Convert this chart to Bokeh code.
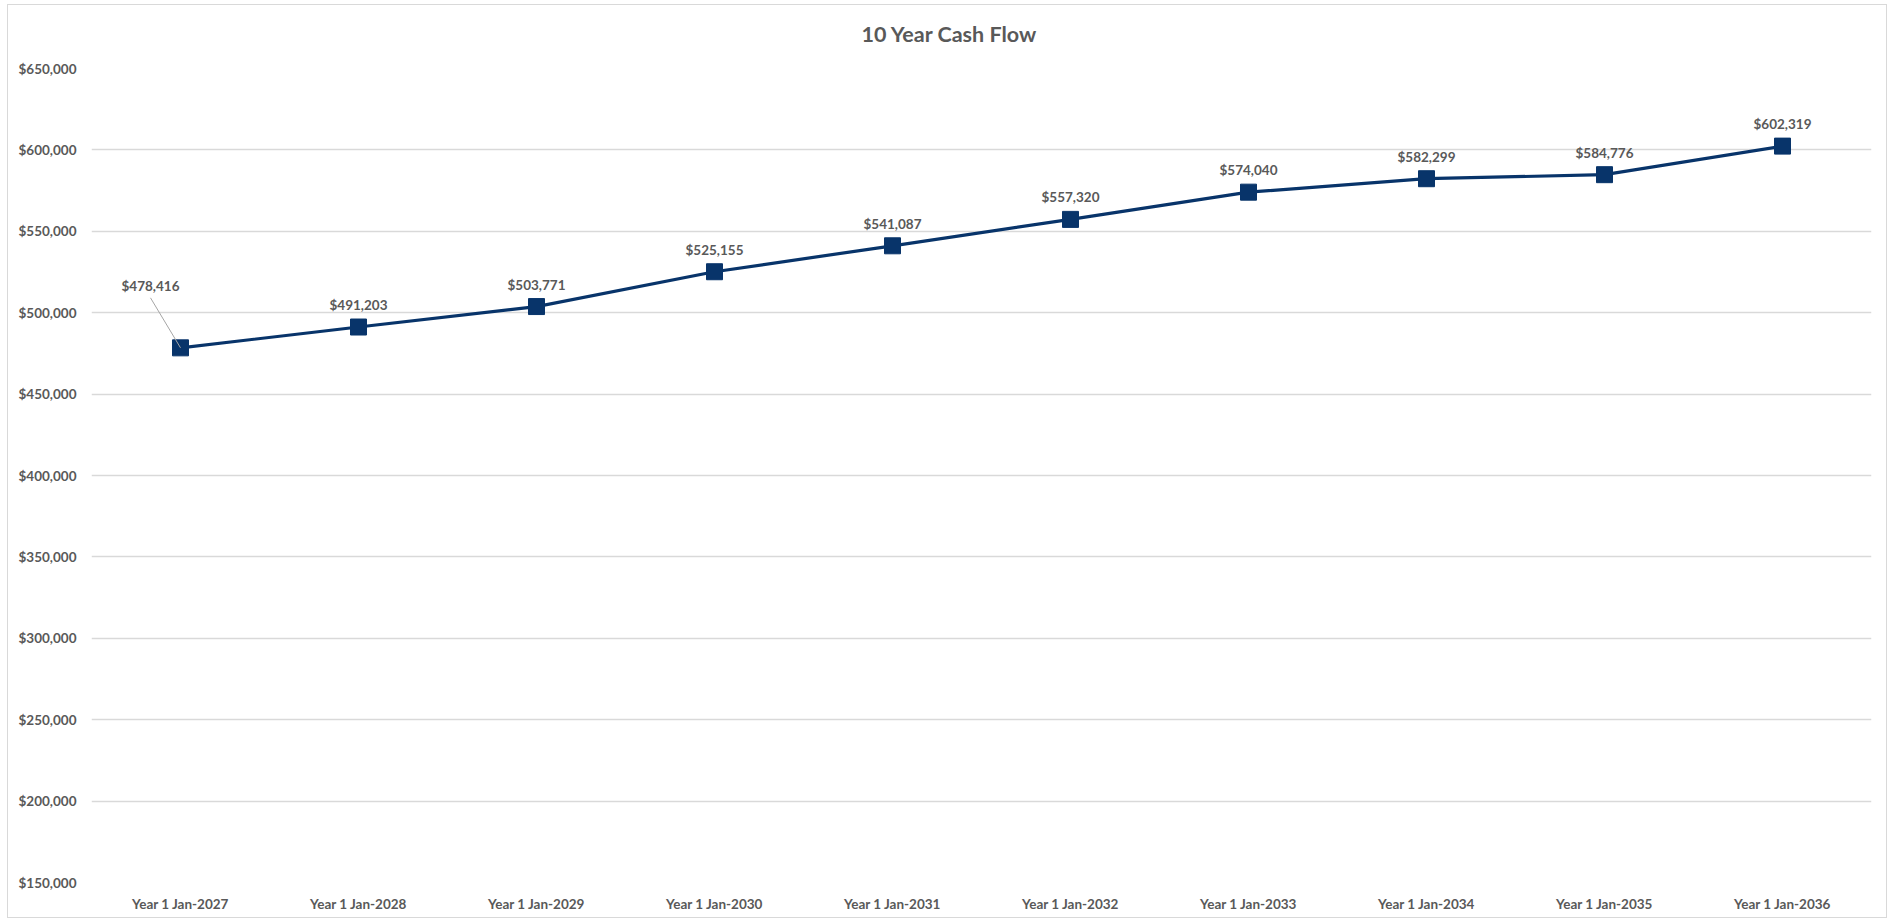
from bokeh.plotting import figure
from bokeh.models import (ColumnDataSource, FactorRange, Range1d, FixedTicker,
                          NumeralTickFormatter, Title, Spacer)
from bokeh.layouts import column, row
from bokeh.core.properties import value
from bokeh.embed import file_html
from bokeh.resources import INLINE

categories = ["Year 1 Jan-2027", "Year 1 Jan-2028", "Year 1 Jan-2029", "Year 1 Jan-2030",
              "Year 1 Jan-2031", "Year 1 Jan-2032", "Year 1 Jan-2033", "Year 1 Jan-2034",
              "Year 1 Jan-2035", "Year 1 Jan-2036"]
cash_flow = [478416, 491203, 503771, 525155, 541087, 557320, 574040, 582299, 584776, 602319]
y_ticks = [150000, 200000, 250000, 300000, 350000, 400000, 450000, 500000, 550000, 600000, 650000]
title_text = "10 Year Cash Flow"

FONT = "Lato"
GRAY = "#595959"
NAVY = "#08346A"

W, H = 1878, 912
ML, MR, MT, MB = 83, 15, 63, 35
frame_w = W - ML - MR
frame_h = H - MT - MB
y0, y1 = 150000, 650000
px_per_cat = frame_w / len(categories)
units_per_px = (y1 - y0) / frame_h

p = figure(width=W, height=H, x_range=FactorRange(*categories), y_range=Range1d(y0, y1),
           output_backend="svg", toolbar_location=None,
           min_border_left=ML, min_border_right=MR, min_border_top=MT, min_border_bottom=MB)
p.styles = {"box-shadow": "0 0 0 1px #D9D9D9"}
p.outline_line_color = None
p.background_fill_color = "white"
p.border_fill_color = "white"

# gap between frame and title, then the title itself
p.add_layout(Title(text=" ", text_font_size="1px", standoff=17), "above")
p.add_layout(Title(text=title_text, align="left", offset=770, standoff=4,
                   text_font=FONT, text_font_style="bold", text_font_size="21.5px",
                   text_color=GRAY), "above")

p.xgrid.grid_line_color = None
p.ygrid.grid_line_color = "#D9D9D9"
p.ygrid.grid_line_width = 1.3

for ax in (p.xaxis[0], p.yaxis[0]):
    ax.axis_line_color = None
    ax.major_tick_line_color = None
    ax.minor_tick_line_color = None
    ax.major_tick_out = 0
    ax.major_tick_in = 0
    ax.major_label_text_font = FONT
    ax.major_label_text_font_style = "bold"
    ax.major_label_text_font_size = "13.5px"
    ax.major_label_text_color = GRAY

p.yaxis[0].ticker = FixedTicker(ticks=y_ticks)
p.yaxis[0].formatter = NumeralTickFormatter(format="$0,0")
p.yaxis[0].major_label_standoff = 15
p.xaxis[0].major_label_standoff = 13

labels = ["${:,}".format(v) for v in cash_flow]
src = ColumnDataSource(dict(x=categories, y=cash_flow, label=labels))

p.line("x", "y", source=src, line_color=NAVY, line_width=3.2)
p.scatter("x", "y", source=src, marker="square", size=16, fill_color=NAVY, line_color=NAVY)

# data labels (first one moved out with a leader line)
rest = ColumnDataSource(dict(x=categories[1:], y=cash_flow[1:], label=labels[1:]))
p.text("x", "y", text="label", source=rest, y_offset=-22, text_align="center",
       text_baseline="middle", text_font=value(FONT), text_font_style="bold",
       text_font_size="13.5px", text_color=GRAY)

dx_px, dy_px = -30, 50
lead_x = (categories[0], dx_px / px_per_cat)
lead_y = cash_flow[0] + dy_px * units_per_px
p.segment(x0=[categories[0]], y0=[cash_flow[0]], x1=[lead_x], y1=[lead_y],
          line_color="#A6A6A6", line_width=1)
p.text(x=[lead_x], y=[lead_y], text=[labels[0]], y_offset=-12, text_align="center",
       text_baseline="middle", text_font=value(FONT), text_font_style="bold",
       text_font_size="13.5px", text_color=GRAY)

page = column(Spacer(width=W + 8, height=5), row(Spacer(width=8, height=H), p))
open("out.html", "w").write(file_html(page, INLINE))
